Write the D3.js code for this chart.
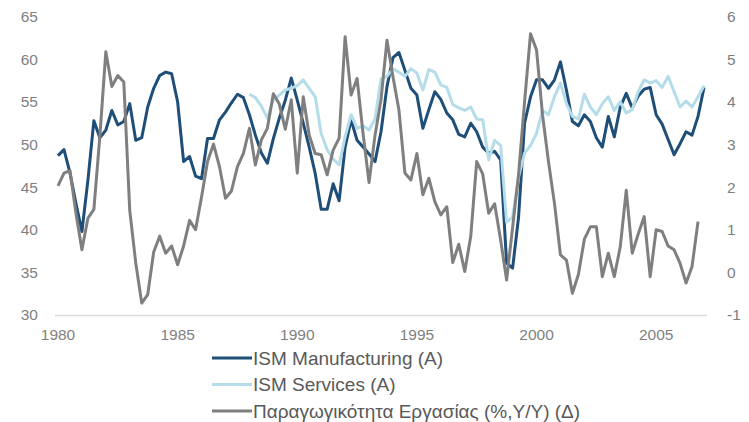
<!DOCTYPE html>
<html>
<head>
<meta charset="utf-8">
<script src="https://cdn.jsdelivr.net/npm/d3@7"></script>
<style>
  html, body { margin: 0; padding: 0; background: #ffffff; }
  svg { display: block; }
  text { font-family: "Liberation Sans", Arial, sans-serif; }
</style>
</head>
<body>
<svg id="chart" width="749" height="422"></svg>
<script>
// ---- data (quarterly, 1980Q1 .. 2007Q1) ----
const startYear = 1980;
const nQuarters = 109;
const categories = [];
for (let k = 0; k < nQuarters; k++) {
  categories.push((startYear + Math.floor(k / 4)) + "Q" + (k % 4 + 1));
}

const ismManufacturing = [
  48.7, 49.4, 46.7, 43.1, 39.8, 45.8, 52.8, 50.8, 51.7, 54.0,
  52.3, 52.7, 54.8, 50.5, 50.8, 54.4, 56.6, 58.1, 58.5, 58.3,
  55.0, 48.0, 48.6, 46.3, 46.0, 50.7, 50.7, 52.9, 53.8, 54.9,
  55.9, 55.5, 53.5, 51.1, 49.0, 47.8, 50.7, 53.1, 55.2, 57.8,
  55.2, 52.5, 49.7, 46.6, 42.4, 42.4, 45.4, 43.4, 49.7, 52.9,
  50.5, 49.7, 48.9, 48.0, 51.5, 56.8, 60.2, 60.8, 58.7, 56.6,
  55.8, 51.9, 54.1, 56.2, 55.3, 53.7, 52.9, 51.2, 50.9, 52.5,
  51.5, 49.7, 49.0, 49.2, 48.2, 36.1, 35.5, 41.5, 52.5, 55.6,
  57.6, 57.6, 56.6, 57.6, 59.7, 56.4, 52.7, 52.2, 53.5, 52.7,
  50.8, 49.7, 53.3, 50.9, 54.4, 56.0, 54.3, 55.7, 56.5, 56.7,
  53.5, 52.4, 50.6, 48.8, 50.1, 51.5, 51.1, 53.3, 56.7
];

const ismServices = [
  null, null, null, null, null, null, null, null, null, null,
  null, null, null, null, null, null, null, null, null, null,
  null, null, null, null, null, null, null, null, null, null,
  null, null, 55.9, 55.5, 54.5, 53.1, 55.2, 55.8, 56.4, 56.6,
  56.9, 57.6, 56.6, 55.6, 51.3, 49.4, 48.3, 47.6, 50.9, 53.5,
  51.9, 52.2, 51.7, 53.0, 57.7, 58.0, 58.9, 58.5, 58.0, 58.9,
  58.4, 56.4, 58.8, 58.5, 57.0, 56.7, 54.7, 54.3, 54.0, 54.4,
  53.0, 52.9, 48.2, 50.5, 49.9, 40.9, 41.5, 46.2, 49.0, 49.9,
  51.3, 54.0, 53.5, 55.6, 57.2, 54.8, 53.3, 53.0, 55.9, 54.4,
  53.5, 54.8, 55.6, 54.0, 55.0, 53.7, 54.1, 56.2, 57.6, 57.2,
  57.5, 56.7, 58.0, 56.2, 54.4, 55.1, 54.4, 55.6, 56.9
];

const productivity = [
  2.03, 2.33, 2.39, 1.39, 0.53, 1.27, 1.48, 3.20, 5.18, 4.36,
  4.62, 4.47, 1.45, 0.22, -0.72, -0.52, 0.48, 0.85, 0.45, 0.62,
  0.18, 0.62, 1.22, 1.00, 1.77, 2.60, 3.01, 2.48, 1.74, 1.91,
  2.48, 2.79, 3.38, 2.52, 3.11, 3.38, 4.19, 3.95, 3.36, 4.05,
  2.33, 4.12, 3.22, 2.79, 2.76, 2.29, 2.87, 3.15, 5.53, 4.16,
  4.55, 3.26, 2.11, 3.22, 4.05, 5.45, 4.59, 3.81, 2.33, 2.17,
  2.79, 1.82, 2.21, 1.66, 1.35, 1.54, 0.23, 0.66, 0.02, 0.84,
  2.60, 2.31, 1.39, 1.61, 0.76, -0.18, 1.05, 2.30, 4.00, 5.60,
  5.22, 3.70, 2.60, 1.62, 0.41, 0.29, -0.49, -0.05, 0.78, 1.07,
  1.07, -0.10, 0.45, -0.10, 0.60, 1.93, 0.45, 0.90, 1.31, -0.10,
  1.00, 0.96, 0.62, 0.53, 0.21, -0.25, 0.14, 1.19, null
];

const xTickLabels = ["1980", "1985", "1990", "1995", "2000", "2005"];
const leftTicks = [30, 35, 40, 45, 50, 55, 60, 65];
const rightTicks = [-1, 0, 1, 2, 3, 4, 5, 6];
const seriesNames = [
  "ISM Manufacturing (A)",
  "ISM Services (A)",
  "Παραγωγικότητα Εργασίας (%,Υ/Υ) (Δ)"
];

// ---- drawing ----
const svg = d3.select("#chart");
const plot = { left: 55, right: 707, top: 16.7, bottom: 315 };

const x = d3.scaleBand().domain(categories).range([plot.left, plot.right]).paddingInner(0).paddingOuter(0);
const xc = c => x(c) + x.bandwidth() / 2;
const yL = d3.scaleLinear().domain([30, 65]).range([plot.bottom, plot.top]);
const yR = d3.scaleLinear().domain([-1, 6]).range([plot.bottom, plot.top]);

const tickColor = "#7f7f7f";
const tickFont = 15.5;
const plainFmt = d => String(d);

// bottom axis line
const xAxis = d3.axisBottom(x)
  .tickValues(xTickLabels.map(y => y + "Q1"))
  .tickFormat(d => d.slice(0, 4))
  .tickSize(0).tickPadding(14);
const gx = svg.append("g").attr("transform", `translate(0,${plot.bottom})`).call(xAxis);
gx.select(".domain").attr("stroke", "#d9d9d9").attr("stroke-width", 1.3)
  .attr("d", `M${plot.left},0.5H${plot.right}`);
gx.selectAll("text").attr("fill", tickColor).attr("font-size", tickFont)
  .attr("font-family", "Liberation Sans, Arial, sans-serif");

// left axis
const yAxisL = d3.axisLeft(yL).tickValues(leftTicks).tickFormat(plainFmt).tickSize(0).tickPadding(17);
const gyl = svg.append("g").attr("transform", `translate(${plot.left},0)`).call(yAxisL);
gyl.select(".domain").remove();
gyl.selectAll("text").attr("fill", tickColor).attr("font-size", tickFont)
  .attr("font-family", "Liberation Sans, Arial, sans-serif");

// right axis
const yAxisR = d3.axisRight(yR).tickValues(rightTicks).tickFormat(plainFmt).tickSize(0).tickPadding(20);
const gyr = svg.append("g").attr("transform", `translate(${plot.right},0)`).call(yAxisR);
gyr.select(".domain").remove();
gyr.selectAll("text").attr("fill", tickColor).attr("font-size", tickFont)
  .attr("font-family", "Liberation Sans, Arial, sans-serif")
  .attr("text-anchor", "start");

const colors = ["#1f4e79", "#b4dde9", "#7f7f7f"];

function drawLine(values, yScale, color) {
  const line = d3.line()
    .defined(d => d.v !== null && d.v !== undefined)
    .x(d => xc(d.c))
    .y(d => yScale(d.v));
  svg.append("path")
    .datum(categories.map((c, k) => ({ c: c, v: values[k] })))
    .attr("fill", "none")
    .attr("stroke", color)
    .attr("stroke-width", 3)
    .attr("stroke-linejoin", "round")
    .attr("d", line);
}

drawLine(ismManufacturing, yL, colors[0]);
drawLine(ismServices, yL, colors[1]);
drawLine(productivity, yR, colors[2]);

// legend
const legend = svg.append("g");
const legendY = [358, 384.5, 411];
seriesNames.forEach((name, k) => {
  legend.append("line")
    .attr("x1", 212).attr("x2", 252)
    .attr("y1", legendY[k]).attr("y2", legendY[k])
    .attr("stroke", colors[k]).attr("stroke-width", 3);
  legend.append("text")
    .attr("x", 253).attr("y", legendY[k])
    .attr("dy", "0.35em")
    .attr("fill", "#595959")
    .attr("font-size", 19)
    .text(name);
});
</script>
</body>
</html>
